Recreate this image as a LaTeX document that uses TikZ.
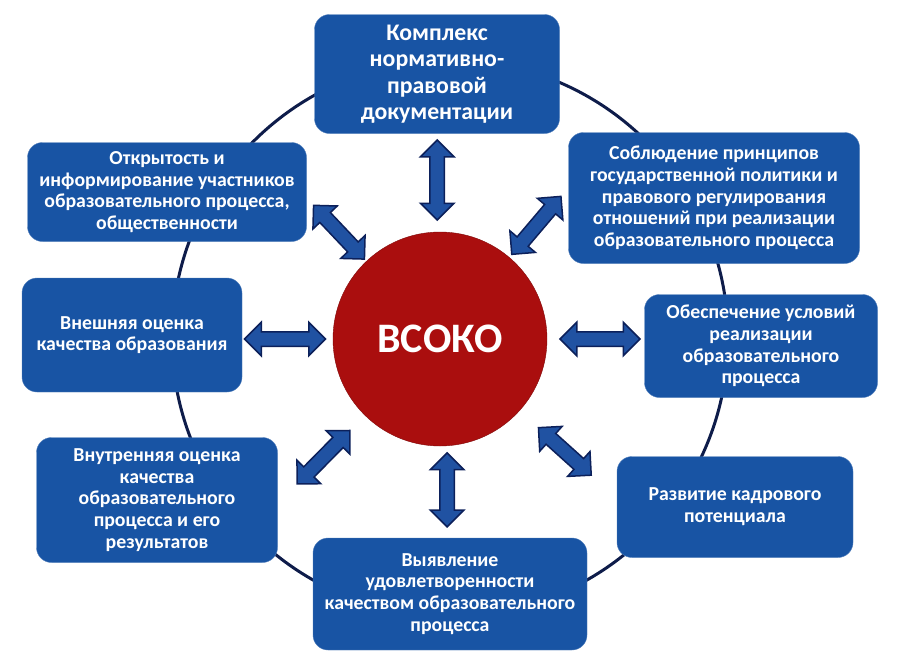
\documentclass[tikz,border=0pt]{standalone}
\usepackage{fontspec}
\setmainfont{Carlito}
\usetikzlibrary{shapes,arrows,positioning,calc}
\definecolor{boxblue}{RGB}{24,84,164}
\definecolor{arrowblue}{RGB}{32,82,162}
\definecolor{arrownavy}{RGB}{12,32,90}
\definecolor{ringnavy}{RGB}{14,28,74}
\definecolor{vsokored}{RGB}{170,14,14}
\newcommand{\boxfont}{\fontsize{19.8}{21.7}\selectfont\bfseries}
\newcommand{\topfont}{\fontsize{23.8}{26.5}\selectfont\bfseries}

\begin{document}
\begin{tikzpicture}[x=1pt, y=-1pt, >=stealth]
        % Styles
        \tikzstyle{block} = [rectangle, draw=boxblue!75!white, fill=boxblue, text=white, align=center, rounded corners=15pt, font=\boxfont, inner sep=4pt]
        \tikzstyle{core} = [circle, draw=vsokored!75!black, fill=vsokored, text=white, minimum size=214pt, font=\fontsize{42}{48}\selectfont\bfseries]
        \tikzstyle{dblarrow} = [double arrow, draw=arrownavy, fill=arrowblue, line width=1.5pt, inner xsep=0pt, inner ysep=6.5pt, double arrow head extend=9.5pt]
        \tikzstyle{ring} = [draw=ringnavy, line width=3pt]

        \useasboundingbox (0,0) rectangle (900,667);
        \draw [ring] (450,338) circle [radius=278pt];

        % Nodes
        \node [core] (vsoko) at (440,339) {ВСОКО};
        \node [block, minimum width=245pt, minimum height=119pt, font=\topfont] (docs) at (437,74) {Комплекс\\нормативно-\\правовой\\документации};
        \node [block, minimum width=291pt, minimum height=131pt] (policy) at (714,198) {Соблюдение принципов\\государственной политики и\\правового регулирования\\отношений при реализации\\образовательного процесса};
        \node [block, minimum width=233pt, minimum height=103pt] (terms) at (761,346) {Обеспечение условий\\реализации\\образовательного\\процесса};
        \node [block, minimum width=236pt, minimum height=101pt] (staff) at (735,507) {Развитие кадрового\\потенциала};
        \node [block, minimum width=274pt, minimum height=112pt] (satisf) at (450,594) {Выявление\\удовлетворенности\\качеством образовательного\\процесса};
        \node [block, minimum width=241pt, minimum height=125pt] (inner) at (157,500) {Внутренняя оценка\\качества\\образовательного\\процесса и его\\результатов};
        \node [block, minimum width=220pt, minimum height=114pt] (outer) at (132,335) {Внешняя оценка\\качества образования};
        \node [block, minimum width=279pt, minimum height=99pt] (open) at (167,192) {Открытость и\\информирование участников\\образовательного процесса,\\общественности};

        % Edges
        \node [dblarrow, minimum height=80pt, rotate=90] (a-docs) at ($(vsoko.center)+(91:159pt)$) {};
        \node [dblarrow, minimum height=76pt, rotate=49.7] (a-policy) at ($(vsoko.center)+(49.7:149pt)$) {};
        \node [dblarrow, minimum height=80pt, rotate=0] (a-terms) at ($(vsoko.center)+(0:160pt)$) {};
        \node [dblarrow, minimum height=71pt, rotate=-42] (a-staff) at ($(vsoko.center)+(-42:168pt)$) {};
        \node [dblarrow, minimum height=74pt, rotate=90] (a-satisf) at ($(vsoko.center)+(-87.3:151pt)$) {};
        \node [dblarrow, minimum height=75pt, rotate=225.4] (a-inner) at ($(vsoko.center)+(225.4:166pt)$) {};
        \node [dblarrow, minimum height=81pt, rotate=180] (a-outer) at ($(vsoko.center)+(180:155pt)$) {};
        \node [dblarrow, minimum height=74pt, rotate=133.4] (a-open) at ($(vsoko.center)+(133.4:147pt)$) {};

    \end{tikzpicture}
\end{document}
